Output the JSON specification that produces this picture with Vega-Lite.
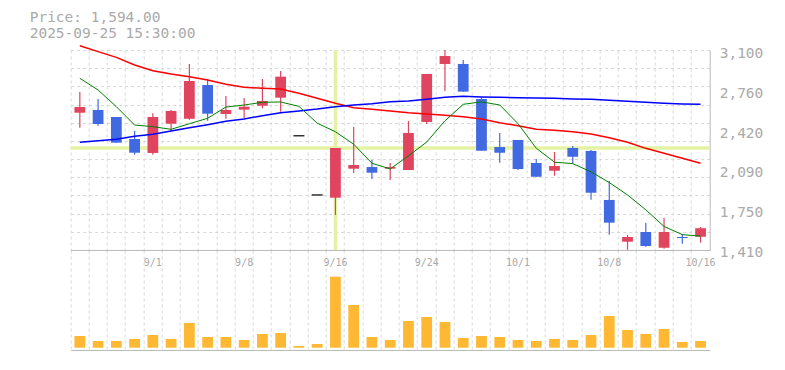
{
  "$schema": "https://vega.github.io/schema/vega-lite/v6.json",
  "background": "white",
  "padding": {"left": 29.7, "top": 10, "right": 5, "bottom": 5},
  "title": {
    "text": "Price: 1,594.00",
    "subtitle": "2025-09-25 15:30:00",
    "anchor": "start",
    "frame": "group",
    "dx": -41,
    "offset": 1.5,
    "font": "DejaVu Sans Mono",
    "fontSize": 14.5,
    "fontWeight": "normal",
    "color": "#aaaaaa",
    "subtitleFont": "DejaVu Sans Mono",
    "subtitleFontSize": 14.5,
    "subtitleColor": "#aaaaaa",
    "subtitlePadding": 1
  },
  "config": {
    "view": {"stroke": null},
    "axis": {
      "gridColor": "#d8d8d8",
      "gridDash": [3, 3],
      "gridWidth": 1,
      "domainColor": "#bbbbbb",
      "domainWidth": 1,
      "labelColor": "#aaaaaa",
      "labelFont": "DejaVu Sans Mono",
      "ticks": false,
      "title": null
    }
  },
  "datasets": {
    "px": [
      {"d": "8/26", "o": 2570, "h": 2745, "l": 2443, "c": 2618, "v": 117, "m5": 2861, "m25": 3136, "m75": 2320},
      {"d": "8/27", "o": 2593, "h": 2686, "l": 2460, "c": 2475, "v": 67, "m5": 2762, "m25": 3086, "m75": 2334},
      {"d": "8/28", "o": 2534, "h": 2534, "l": 2317, "c": 2317, "v": 67, "m5": 2621, "m25": 3038, "m75": 2345},
      {"d": "8/29", "o": 2348, "h": 2416, "l": 2215, "c": 2232, "v": 87, "m5": 2466, "m25": 2973, "m75": 2371},
      {"d": "9/1", "o": 2230, "h": 2565, "l": 2215, "c": 2534, "v": 127, "m5": 2452, "m25": 2925, "m75": 2388},
      {"d": "9/2", "o": 2477, "h": 2593, "l": 2416, "c": 2585, "v": 87, "m5": 2430, "m25": 2897, "m75": 2416},
      {"d": "9/3", "o": 2519, "h": 2982, "l": 2511, "c": 2838, "v": 247, "m5": 2477, "m25": 2874, "m75": 2443},
      {"d": "9/4", "o": 2804, "h": 2855, "l": 2503, "c": 2562, "v": 107, "m5": 2523, "m25": 2846, "m75": 2469},
      {"d": "9/5", "o": 2559, "h": 2711, "l": 2519, "c": 2593, "v": 107, "m5": 2618, "m25": 2810, "m75": 2497},
      {"d": "9/8", "o": 2596, "h": 2694, "l": 2519, "c": 2621, "v": 77, "m5": 2635, "m25": 2785, "m75": 2517},
      {"d": "9/9", "o": 2629, "h": 2855, "l": 2607, "c": 2669, "v": 137, "m5": 2658, "m25": 2776, "m75": 2545},
      {"d": "9/10", "o": 2697, "h": 2923, "l": 2579, "c": 2875, "v": 147, "m5": 2661, "m25": 2770, "m75": 2570},
      {"d": "9/11", "o": 2375, "h": 2375, "l": 2375, "c": 2375, "v": 17, "m5": 2624, "m25": 2734, "m75": 2585},
      {"d": "9/12", "o": 1875, "h": 1875, "l": 1875, "c": 1875, "v": 37, "m5": 2482, "m25": 2692, "m75": 2601},
      {"d": "9/16", "o": 1852, "h": 2272, "l": 1706, "c": 2272, "v": 710, "m5": 2409, "m25": 2650, "m75": 2621},
      {"d": "9/17", "o": 2097, "h": 2449, "l": 2061, "c": 2128, "v": 427, "m5": 2304, "m25": 2612, "m75": 2635},
      {"d": "9/18", "o": 2111, "h": 2170, "l": 2010, "c": 2063, "v": 107, "m5": 2143, "m25": 2599, "m75": 2646},
      {"d": "9/19", "o": 2097, "h": 2145, "l": 2001, "c": 2111, "v": 77, "m5": 2095, "m25": 2585, "m75": 2663},
      {"d": "9/22", "o": 2086, "h": 2500, "l": 2086, "c": 2399, "v": 267, "m5": 2205, "m25": 2570, "m75": 2669},
      {"d": "9/24", "o": 2492, "h": 2897, "l": 2475, "c": 2897, "v": 307, "m5": 2322, "m25": 2559, "m75": 2683},
      {"d": "9/25", "o": 2982, "h": 3100, "l": 2754, "c": 3049, "v": 257, "m5": 2502, "m25": 2548, "m75": 2700},
      {"d": "9/26", "o": 2982, "h": 3016, "l": 2748, "c": 2748, "v": 97, "m5": 2641, "m25": 2536, "m75": 2709},
      {"d": "9/29", "o": 2686, "h": 2700, "l": 2249, "c": 2249, "v": 117, "m5": 2662, "m25": 2517, "m75": 2703},
      {"d": "9/30", "o": 2280, "h": 2399, "l": 2148, "c": 2232, "v": 107, "m5": 2635, "m25": 2486, "m75": 2700},
      {"d": "10/1", "o": 2340, "h": 2340, "l": 2086, "c": 2094, "v": 77, "m5": 2478, "m25": 2460, "m75": 2697},
      {"d": "10/2", "o": 2145, "h": 2179, "l": 2029, "c": 2029, "v": 67, "m5": 2270, "m25": 2430, "m75": 2694},
      {"d": "10/3", "o": 2080, "h": 2238, "l": 2038, "c": 2120, "v": 87, "m5": 2152, "m25": 2421, "m75": 2692},
      {"d": "10/6", "o": 2272, "h": 2289, "l": 2139, "c": 2198, "v": 77, "m5": 2140, "m25": 2410, "m75": 2686},
      {"d": "10/7", "o": 2247, "h": 2255, "l": 1835, "c": 1894, "v": 127, "m5": 2070, "m25": 2390, "m75": 2683},
      {"d": "10/8", "o": 1833, "h": 1993, "l": 1539, "c": 1641, "v": 317, "m5": 1980, "m25": 2359, "m75": 2675},
      {"d": "10/9", "o": 1480, "h": 1537, "l": 1412, "c": 1520, "v": 177, "m5": 1875, "m25": 2320, "m75": 2666},
      {"d": "10/10", "o": 1562, "h": 1638, "l": 1438, "c": 1444, "v": 137, "m5": 1750, "m25": 2269, "m75": 2658},
      {"d": "10/14", "o": 1429, "h": 1680, "l": 1421, "c": 1562, "v": 187, "m5": 1609, "m25": 2227, "m75": 2650},
      {"d": "10/15", "o": 1520, "h": 1545, "l": 1463, "c": 1511, "v": 57, "m5": 1540, "m25": 2185, "m75": 2644},
      {"d": "10/16", "o": 1522, "h": 1604, "l": 1472, "c": 1594, "v": 67, "m5": 1527, "m25": 2143, "m75": 2641}
    ]
  },
  "data": {"name": "px"},
  "spacing": 0,
  "bounds": "flush",
  "resolve": {"scale": {"x": "shared"}},
  "vconcat": [
    {
      "width": 639,
      "height": 200,
      "layer": [
        {
          "transform": [{"filter": "datum.d == '9/16'"}],
          "mark": {"type": "rule", "color": "#e3f3a3", "strokeWidth": 3.5},
          "encoding": {
            "y": {"field": "c", "type": "quantitative", "scale": {"domain": [1410, 3100], "zero": false, "nice": false}, "axis": null}
          }
        },
        {
          "encoding": {
            "x": {
              "field": "d", "type": "ordinal", "sort": null,
              "scale": {"paddingInner": 0, "paddingOuter": 0},
              "axis": {"orient": "bottom", "labels": false, "ticks": false, "domain": true, "grid": true, "bandPosition": 0, "title": null}
            }
          },
          "layer": [
            {
              "mark": {"type": "rule", "color": "#e3f3a3", "strokeWidth": 3.5},
              "encoding": {
                "opacity": {"condition": {"test": "datum.d == '9/16'", "value": 1}, "value": 0}
              }
            },
            {
              "mark": {"type": "rule", "strokeWidth": 1.2},
              "encoding": {
                "y": {
                  "field": "l", "type": "quantitative",
                  "scale": {"domain": [1410, 3100], "zero": false, "nice": false},
                  "axis": {"orient": "right", "values": [1410, 1750, 2090, 2420, 2760, 3100], "format": ",d", "grid": false, "ticks": false, "domain": true, "labelPadding": 9.5, "labelFontSize": 14.5, "labelOffset": 3, "labelBaseline": "middle", "labelOverlap": false, "labelFlush": false, "title": null}
                },
                "y2": {"field": "h"},
                "color": {"condition": {"test": "datum.c >= datum.o", "value": "#e0445e"}, "value": "#4169e1"}
              }
            },
            {
              "mark": {"type": "bar", "width": {"band": 0.59}},
              "encoding": {
                "y": {
                  "field": "o", "type": "quantitative",
                  "scale": {"domain": [1410, 3100], "zero": false, "nice": false},
                  "axis": {"orient": "left", "values": [1410, 1563.6, 1717.3, 1870.9, 2024.5, 2178.2, 2331.8, 2485.5, 2639.1, 2792.7, 2946.4, 3100], "labels": false, "ticks": false, "domain": false, "grid": true, "title": null}
                },
                "y2": {"field": "c"},
                "color": {"condition": {"test": "datum.c >= datum.o", "value": "#e0445e"}, "value": "#4169e1"}
              }
            },
            {
              "mark": {"type": "tick", "color": "#000000", "thickness": 1.2, "size": 11},
              "encoding": {
                "y": {"field": "c", "type": "quantitative", "scale": {"domain": [1410, 3100], "zero": false, "nice": false}, "axis": null},
                "opacity": {"condition": {"test": "datum.h == datum.l", "value": 1}, "value": 0}
              }
            },
            {
              "mark": {"type": "line", "color": "#ff0000", "strokeWidth": 1.5},
              "encoding": {
                "y": {"field": "m25", "type": "quantitative", "scale": {"domain": [1410, 3100], "zero": false, "nice": false}, "axis": null}
              }
            },
            {
              "mark": {"type": "line", "color": "#0000ff", "strokeWidth": 1.5},
              "encoding": {
                "y": {"field": "m75", "type": "quantitative", "scale": {"domain": [1410, 3100], "zero": false, "nice": false}, "axis": null}
              }
            },
            {
              "mark": {"type": "line", "color": "#008000", "strokeWidth": 1},
              "encoding": {
                "y": {"field": "m5", "type": "quantitative", "scale": {"domain": [1410, 3100], "zero": false, "nice": false}, "axis": null}
              }
            }
          ],
          "resolve": {"axis": {"y": "independent"}}
        }
      ],
      "resolve": {"axis": {"y": "independent"}}
    },
    {
      "width": 639,
      "height": 100,
      "layer": [
        {
          "mark": {"type": "bar", "width": {"band": 0.59}, "color": "#ffb833"},
          "encoding": {
            "x": {
              "field": "d", "type": "ordinal", "sort": null,
              "scale": {"paddingInner": 0, "paddingOuter": 0},
              "axis": {"orient": "top", "values": ["9/1", "9/8", "9/16", "9/24", "10/1", "10/8", "10/16"], "labels": true, "labelFontSize": 10, "labelPadding": -16, "labelBaseline": "alphabetic", "labelAlign": "center", "labelAngle": 0, "labelOverlap": false, "labelFlush": false, "ticks": false, "domain": true, "grid": false, "title": null}
            },
            "y": {
              "field": "v", "type": "quantitative",
              "scale": {"domain": [-23, 977], "zero": false, "nice": false},
              "axis": {"orient": "right", "labels": false, "ticks": false, "grid": false, "domain": true, "title": null}
            },
            "y2": {"datum": 0}
          }
        },
        {
          "mark": {"type": "bar", "width": {"band": 0.59}, "opacity": 0},
          "encoding": {
            "x": {
              "field": "d", "type": "ordinal", "sort": null,
              "scale": {"paddingInner": 0, "paddingOuter": 0},
              "axis": {"orient": "bottom", "labels": false, "ticks": false, "domain": true, "grid": true, "bandPosition": 0, "title": null}
            },
            "y": {"field": "v", "type": "quantitative", "scale": {"domain": [-23, 977], "zero": false, "nice": false}, "axis": null},
            "y2": {"datum": 0}
          }
        }
      ],
      "resolve": {"axis": {"x": "independent"}}
    }
  ]
}
